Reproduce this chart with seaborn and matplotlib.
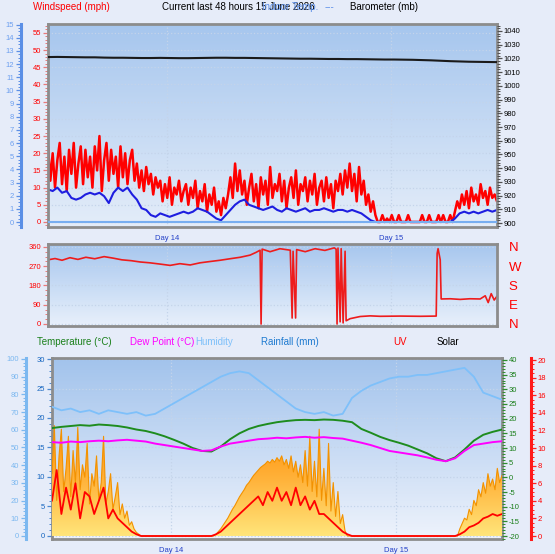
import numpy as np
import pandas as pd
import matplotlib
matplotlib.use("Agg")
import matplotlib.pyplot as plt
import seaborn as sns
from matplotlib.colors import LinearSegmentedColormap
from matplotlib.ticker import MultipleLocator, FixedLocator, FixedFormatter
from matplotlib.patches import PathPatch
from matplotlib.path import Path

# ---------------- data ----------------
day_hours = [12.7, 36.7]
day_labels = ["Day 14", "Day 15"]
six_hour_ticks = [0.7, 6.7, 18.7, 24.7, 30.7, 42.7]

# wind gust, mph, every 15 minutes
wind_gust = [
    22, 12, 20, 10, 18, 23, 11, 19, 9, 21, 14, 23, 10, 17, 22, 11, 21, 13, 19, 10,
    22, 15, 25, 9, 18, 23, 12, 21, 14, 19, 10, 22, 13, 20, 11, 18,
    21, 12, 17, 10, 15, 9, 16, 11, 14, 8, 13, 10,
    12, 6, 11, 7, 13, 5, 10, 8, 12, 6, 9, 11, 5, 10, 7,
    12, 4, 9, 6, 11, 3, 8, 5, 10,
    3, 6, 2, 7, 4, 8,
    13, 7, 17, 9, 15, 8,
    12, 5, 10, 14, 6, 11, 4, 13, 8, 12, 5, 16, 7, 11, 9, 14, 6, 12, 4, 10,
    13, 7, 15, 5, 11, 9, 13, 6, 12, 8, 14, 5, 10, 12, 6, 13, 7, 11, 4, 12, 9, 14,
    8, 15, 10, 17, 9, 14, 6, 16, 8, 12,
    5, 8, 3, 6,
    2, 0, 0, 2, 0, 1, 0, 2, 0, 0, 2, 0, 0, 0, 2, 0, 0, 0, 0, 0,
    2, 0, 0, 2, 0, 0, 0, 2, 0, 2, 0, 0, 2, 0,
    3, 6, 4, 8, 5, 9, 4, 10, 6, 8, 5, 11, 7, 9, 5, 10, 7, 8, 6,
]
# average wind, mph, every 30 minutes
wind_avg = [
    9.5, 9, 10, 8.5, 9, 7, 6.5, 7, 8, 8.5, 8, 8.5, 7.5, 5.5, 8.5, 10, 9, 10,
    8, 6.5, 4, 3.5, 2, 1.5, 2.5,
    2, 1.5, 2, 2.5, 3, 2.5, 3,
    4, 3.5, 3, 2, 1, 0.5,
    2, 3.5, 5, 6, 6.5,
    5, 4.5, 4, 3.5, 4, 4.5, 3.5, 3, 4, 3.5, 3, 3.5, 4, 3, 3.5, 3.5, 4, 3.5, 3, 3.5, 3.5,
    3, 3.5, 3, 2.5, 1.5, 0.5,
    0, 0, 0, 0, 0, 0, 0, 0, 0, 0, 0, 0, 0, 0, 0, 0, 0,
    1, 2.5, 3, 2.5, 3, 2.5, 3, 3.5, 3, 3.5,
]
# barometer, mb, hourly
barometer = [
    1021.0, 1021.1, 1021.0, 1020.9, 1020.8, 1020.8, 1020.6, 1020.5, 1020.5, 1020.4,
    1020.3, 1020.3, 1020.4, 1020.3, 1020.2, 1020.2, 1020.3, 1020.4, 1020.5, 1020.5,
    1020.4, 1020.4, 1020.3, 1020.2, 1020.1, 1020.0, 1019.9, 1019.8, 1019.8, 1019.7,
    1019.6, 1019.6, 1019.5, 1019.5, 1019.4, 1019.3, 1019.2, 1019.2, 1019.1, 1019.0,
    1018.8, 1018.6, 1018.3, 1018.0, 1017.8, 1017.6, 1017.5, 1017.4, 1017.3,
]
rate_hours = [0, 48]
rate_values = [0, 0]

# wind direction (degrees) at times (hours from start)
dir_hours = [
    0.0, 0.75, 1.5, 2.35, 3.2, 4.05, 5.0, 6.0, 6.95, 7.9, 8.9, 9.85, 10.9, 12.0,
    13.05, 14.1, 15.2, 16.25, 17.3, 18.4, 19.45, 20.55, 21.6, 22.25, 22.67, 22.78,
    22.89, 23.74, 24.8, 25.9, 26.1, 26.2, 26.47, 26.58, 27.5, 28.55, 29.6, 30.6,
    30.8, 30.9, 31.0, 31.23, 31.34, 31.55, 31.76, 31.87, 32.3, 33.37, 34.44, 35.5,
    37.65, 39.8, 41.5, 41.6, 41.7, 41.93, 42.03, 43.0, 44.06, 45.1, 46.2, 46.74,
    47.06, 47.38, 47.7, 48.0,
]
dir_deg = [
    300, 306, 298, 310, 302, 312, 305, 315, 308, 300, 296, 290, 286, 280,
    274, 282, 276, 286, 292, 298, 305, 312, 322, 335, 345, 0,
    350, 338, 352, 345, 28, 340, 28, 348, 338, 352, 344, 356,
    350, 0, 355, 10, 352, 5, 340, 15, 25, 35, 38, 36,
    37, 36, 37, 330, 352, 300, 117, 118, 115, 118, 117, 132,
    100, 142, 112, 130,
]

# hourly humidity (%), temperature and dew point (°C)
humidity = [
    73, 71, 72, 70, 71, 69, 71, 70, 69, 70, 68, 69, 72, 75, 78, 81, 84, 87, 90, 92,
    93, 92, 88, 84, 80, 76, 72, 70, 69, 70, 68, 69, 78, 82, 85, 87, 89, 90, 90, 91,
    91, 92, 93, 94, 95, 90, 81, 79, 77,
]
temperature = [
    16.8, 17.2, 17.5, 17.8, 17.6, 18.0, 17.8, 17.5, 17.0, 16.3,
    15.8, 15.0, 14.0, 12.8, 11.5, 10.0, 9.0, 8.8, 10.5, 13.0,
    15.0, 16.5, 17.5, 18.2, 18.8, 19.2, 19.5, 19.6, 19.5, 19.7,
    19.6, 19.3, 18.8, 16.5, 15.2, 13.8, 12.7, 11.8, 10.8, 9.5,
    8.2, 6.5, 5.5, 6.8, 9.5, 12.5, 14.5, 15.5, 16.3,
]
dew_point = [
    12.0, 11.8, 12.2, 12.0, 12.3, 12.5, 12.3, 12.6, 12.8, 12.5,
    12.2, 11.5, 11.0, 10.5, 10.0, 9.5, 9.0, 9.2, 10.5, 11.5,
    12.0, 12.5, 13.0, 13.2, 13.5, 13.3, 13.6, 13.8, 13.5, 13.7,
    13.4, 13.2, 12.5, 11.8, 11.0, 10.0, 9.0, 8.5, 8.0, 7.5,
    6.8, 6.0, 5.5, 6.5, 9.0, 11.0, 11.5, 12.0, 12.3,
]
# solar radiation (W/m2), every 15 minutes
solar = [
    350, 620, 200, 450, 600, 250, 380, 560, 220, 480, 300, 610, 260, 400, 330, 520,
    180, 350, 280, 450, 200, 300, 560, 180, 250, 350, 150, 220, 300, 120, 180,
    100, 140, 60, 80, 40, 20, 10,
    0, 0, 0, 0, 0, 0, 0, 0, 0, 0, 0, 0, 0, 0, 0, 0,
    0, 0, 0, 0, 0, 0, 0, 0, 0, 0, 0, 0, 0, 0, 0, 0,
    10, 25, 40, 60, 80, 100, 125, 150, 170, 195, 220, 240, 260, 285, 300, 320,
    340, 355, 370, 385, 395, 405, 420, 410, 430, 415, 440, 420, 450, 400, 430, 380,
    450, 360, 420, 330, 400, 300, 480, 280, 560, 250, 420, 220, 600, 200, 380, 170,
    520, 140, 300, 110, 250, 70, 120, 30,
    0, 0, 0, 0, 0, 0, 0, 0, 0, 0, 0, 0, 0, 0, 0, 0,
    0, 0, 0, 0, 0, 0, 0, 0, 0, 0, 0, 0, 0, 0, 0, 0,
    0, 0, 0, 0, 0, 0, 0, 0, 0, 0, 0, 0, 0, 0, 0, 0,
    40, 70, 100, 90, 150, 120, 200, 170, 260, 220, 300, 240, 350, 280, 320, 260,
    380, 300, 340,
]
# UV index, every 30 minutes
uv_index = [
    4, 7.5, 2.5, 5.5, 3, 6, 2, 5, 4.5, 2.5, 4, 5.5, 2, 3,
    2, 1.5, 1, 0.5, 0.2,
    0, 0, 0, 0, 0, 0, 0, 0, 0, 0, 0, 0, 0, 0, 0, 0,
    0.2, 0.5, 1, 1.5, 2, 2.5, 3, 3.5, 4, 4.5, 3.5, 5, 4, 5.5, 4, 5, 3.5, 5.5, 3.5, 4.5,
    3, 4, 2.5, 2.5, 2, 1.5,
    1, 0.5, 0.2, 0,
    0, 0, 0, 0, 0, 0, 0, 0, 0, 0, 0, 0, 0, 0, 0, 0, 0, 0, 0, 0, 0, 0,
    0.2, 0.5, 1, 1.2, 1.5, 2, 2.2, 2.5, 2.3, 2.5,
]

gust_h = np.arange(len(wind_gust)) * 0.25
avg_h = np.arange(len(wind_avg)) * 0.5
hourly_h = np.arange(len(barometer)) * 1.0
solar_h = np.arange(len(solar)) * 0.25
uv_h = np.arange(len(uv_index)) * 0.5
hum_h = np.arange(len(humidity)) * 1.0

# ---------------- figure ----------------
sns.set_style("white")
plt.rcParams["font.family"] = ["Liberation Sans", "DejaVu Sans"]
plt.rcParams["axes.unicode_minus"] = False

W, H = 555, 554
PT = 72 / 100.0
BG = "#e6ecf9"
fig = plt.figure(figsize=(W / 100, H / 100), dpi=100, facecolor=BG)


def rect(x0, y0, x1, y1):
    return [x0 / W, 1 - y1 / H, (x1 - x0) / W, (y1 - y0) / H]


def gradient(ax, top, bottom):
    cmap = LinearSegmentedColormap.from_list("g", [top, bottom])
    ax.imshow(np.linspace(0, 1, 256).reshape(-1, 1), cmap=cmap, aspect="auto",
              extent=[0, 1, 0, 1], transform=ax.transAxes, zorder=0,
              interpolation="bilinear")


def frame(ax):
    ax.set_facecolor("none")
    for s in ax.spines.values():
        s.set_visible(True)
        s.set_color("#8c8c8c")
        s.set_linewidth(2)


def hide_spines(ax):
    for s in ax.spines.values():
        s.set_visible(False)


def yax(a, side, lim, major, minor, tick_c, lab_c, spine_c=None, offset_px=0, spine_lw=2.0):
    a.set_ylim(*lim)
    a.yaxis.set_ticks_position(side)
    a.yaxis.set_label_position(side)
    a.yaxis.set_major_locator(MultipleLocator(major))
    a.yaxis.set_minor_locator(MultipleLocator(minor))
    a.tick_params(axis="y", which="major", direction="out", length=3.5, width=0.9,
                  color=tick_c, labelcolor=lab_c, labelsize=5.5, pad=1.5)
    a.tick_params(axis="y", which="minor", direction="out", length=2, width=0.7, color=tick_c)
    if spine_c is not None:
        sp = a.spines[side]
        sp.set_visible(True)
        sp.set_color(spine_c)
        sp.set_linewidth(spine_lw)
        sp.set_position(("outward", offset_px * PT))
    a.set_ylabel("")


def xsetup(ax, labels=True):
    ax.set_xlim(0, 48)
    ax.xaxis.set_major_locator(FixedLocator(day_hours))
    ax.xaxis.set_major_formatter(FixedFormatter(day_labels if labels else ["", ""]))
    ax.xaxis.set_minor_locator(FixedLocator(six_hour_ticks))
    ax.tick_params(axis="x", which="both", direction="out", length=2.5 if labels else 0,
                   color="#8a8a8a", labelsize=5.5, labelcolor="#2340c8", pad=3)
    ax.grid(axis="x", which="major", color="#c4d4ea", ls=":", lw=0.9)
    ax.set_xlabel("")


def line(ax, x, y, color, lw):
    sns.lineplot(x=x, y=y, ax=ax, color=color, linewidth=lw, sort=False, estimator=None)
    ax.set_xlabel("")
    ax.set_ylabel("")


# ---------- panel 1: wind and barometer ----------
ax1 = fig.add_axes(rect(48, 24, 497, 227))
gradient(ax1, "#a6c6ee", "#e4edf9")
frame(ax1)
ax1_baro = ax1.twinx()
hide_spines(ax1_baro)
ax1_rate = ax1.twinx()
hide_spines(ax1_rate)

line(ax1, gust_h, wind_gust, "#ff0000", 1.8)
line(ax1, avg_h, wind_avg, "#1e1ee0", 1.5)
line(ax1_baro, hourly_h, barometer, "#1a1a1a", 1.5)
line(ax1_rate, rate_hours, rate_values, "#78aef0", 1.5)

yax(ax1, "left", (-1.46, 57.6), 5, 1, "#e87a7a", "#ff0000")
ax1.grid(axis="y", which="major", color="#c4d4ea", ls=":", lw=0.9)
yax(ax1_baro, "right", (897.1, 1045.1), 10, 2, "#505050", "#000000")
yax(ax1_rate, "left", (-0.38, 15.05), 1, 0.25, "#5b8fe6", "#6c9ff0",
    spine_c="#5b8fe6", offset_px=27, spine_lw=2.2)
xsetup(ax1)

# ---------- panel 2: wind direction ----------
ax2 = fig.add_axes(rect(48, 244, 497, 326))
gradient(ax2, "#a6c6ee", "#e8f0fb")
frame(ax2)
line(ax2, dir_hours, dir_deg, "#ee1c1c", 1.2)
ax2.set_ylim(-9.35, 374)
ax2.yaxis.set_major_locator(FixedLocator([0, 90, 180, 270, 360]))
ax2.yaxis.set_minor_locator(MultipleLocator(22.5))
ax2.tick_params(axis="y", which="major", direction="out", length=3.5, width=0.9,
                color="#e87a7a", labelcolor="#ff0000", labelsize=5.5, pad=1.5)
ax2.tick_params(axis="y", which="minor", direction="out", length=2, width=0.7, color="#e87a7a")
ax2.grid(axis="y", which="major", color="#c4d4ea", ls=":", lw=0.9)
xsetup(ax2, labels=False)
ax2_c = ax2.twinx()
hide_spines(ax2_c)
ax2_c.set_ylim(-9.35, 374)
ax2_c.yaxis.set_major_locator(FixedLocator([0, 90, 180, 270, 360]))
ax2_c.yaxis.set_major_formatter(FixedFormatter(["N", "E", "S", "W", "N"]))
ax2_c.tick_params(axis="y", length=0, labelcolor="#ff0000", labelsize=9.5, pad=8.5)

# ---------- panel 3: temperature, humidity, solar, UV ----------
ax3 = fig.add_axes(rect(52, 358, 502, 539))
gradient(ax3, "#a2c3ec", "#eef3fc")
frame(ax3)
ax3_solar = ax3.twinx()
hide_spines(ax3_solar)
ax3_uv = ax3.twinx()
hide_spines(ax3_uv)
ax3_hum = ax3.twinx()
hide_spines(ax3_hum)
ax3_temp = ax3.twinx()
hide_spines(ax3_temp)

# solar: area with an orange-to-yellow vertical gradient
poly = ax3_solar.fill_between(solar_h, solar, color="none", lw=0)
clip = PathPatch(Path.make_compound_path(*poly.get_paths()), transform=ax3_solar.transData,
                 facecolor="none", edgecolor="none")
ax3_solar.add_patch(clip)
sol_cmap = LinearSegmentedColormap.from_list("sol", ["#ff8c00", "#ffb23a", "#ffe57a"])
sol_im = ax3_solar.imshow(np.linspace(0, 1, 256).reshape(-1, 1), cmap=sol_cmap, aspect="auto",
                          extent=[0, 48, 0, 640], origin="upper", zorder=1,
                          interpolation="bilinear")
sol_im.set_clip_path(clip)
line(ax3_solar, solar_h, solar, "#f39200", 0.8)
ax3_solar.set_ylim(-17, 1000)
ax3_solar.yaxis.set_visible(False)

line(ax3_uv, uv_h, uv_index, "#ff0000", 1.3)
line(ax3_hum, hum_h, humidity, "#7ec0fa", 1.3)
line(ax3_temp, hourly_h, temperature, "#1e8c1e", 1.4)
line(ax3_temp, hourly_h, dew_point, "#ff00ff", 1.4)

yax(ax3, "left", (-0.51, 30.17), 5, 1, "#4a88d0", "#1565c0")
ax3.grid(axis="y", which="major", color="#c4d4ea", ls=":", lw=0.9)
yax(ax3_hum, "left", (-1.7, 100.56), 10, 2, "#7cb8f0", "#7cb8f0",
    spine_c="#7cb8f0", offset_px=26, spine_lw=2.2)
yax(ax3_temp, "right", (-21.02, 40.68), 5, 1, "#2e8b2e", "#1a7f1a")
yax(ax3_uv, "right", (-0.34, 20.23), 2, 0.5, "#ff2020", "#ff0000",
    spine_c="#ff1a1a", offset_px=29, spine_lw=2.2)
xsetup(ax3)

# ---------- header texts ----------
def txt(x, y, s, c):
    fig.text(x / W, 1 - y / H, s, color=c, fontsize=7, va="center", ha="left")

txt(33, 7, "Windspeed (mph)", "#ff0000")
txt(162, 7, "Current last 48 hours 15 June 2026", "#000000")
txt(262, 7, "Indoor Temp.", "#5b8ee8")
txt(325, 7, "---", "#5b8ee8")
txt(350, 7, "Barometer (mb)", "#000000")

txt(37, 342, "Temperature (°C)", "#1a7f1a")
txt(130, 342, "Dew Point (°C)", "#ff00ff")
txt(195, 342, "Humidity", "#7ec0fa")
txt(261, 342, "Rainfall (mm)", "#1e7ad0")
txt(393, 342, "UV", "#ff0000")
txt(437, 342, "Solar", "#000000")

fig.savefig("out.png", dpi=100, facecolor=BG)
